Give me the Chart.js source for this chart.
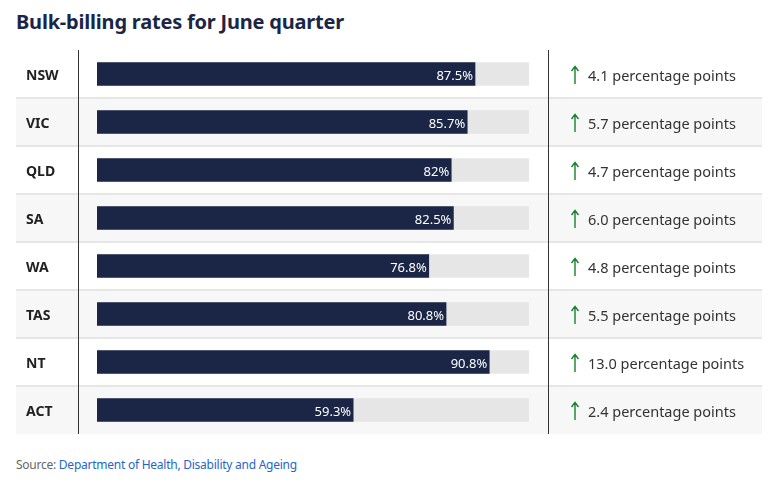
<!DOCTYPE html>
<html>
<head>
<meta charset="utf-8">
<script src="https://cdn.jsdelivr.net/npm/chart.js@4.4.1/dist/chart.umd.min.js"></script>
<style>
  body { margin: 0; background: #fff; font-family: "Noto Sans", sans-serif; }
  #title { position: absolute; left: 16px; top: 8px; font-size: 20px; font-weight: bold; color: #1b2646; letter-spacing: -0.2px; }
  #wrap { position: absolute; left: 16px; top: 50px; width: 746px; height: 384px; }
  #source { position: absolute; left: 16px; top: 456px; font-size: 12px; color: #666; letter-spacing: -0.25px; }
  #source span { color: #1f66c9; }
</style>
</head>
<body>
<div id="title">Bulk-billing rates for June quarter</div>
<div id="wrap"><canvas id="chart"></canvas></div>
<div id="source">Source: <span>Department of Health, Disability and Ageing</span></div>
<script>
const states = ["NSW", "VIC", "QLD", "SA", "WA", "TAS", "NT", "ACT"];
const rates = [87.5, 85.7, 82, 82.5, 76.8, 80.8, 90.8, 59.3];
const changes = [4.1, 5.7, 4.7, 6.0, 4.8, 5.5, 13.0, 2.4];
const track = states.map(() => 100);

// row stripes, dividers, state names and change text
const tablePlugin = {
  id: "table",
  beforeDraw(chart) {
    const ctx = chart.ctx;
    const w = chart.width;
    const yScale = chart.scales.y;
    const rowH = chart.height / states.length;
    ctx.save();
    states.forEach((s, i) => {
      const top = yScale.getPixelForValue(i) - rowH / 2;
      if (i % 2 === 1) {
        ctx.fillStyle = "#f7f7f7";
        ctx.fillRect(0, top, w, rowH);
      }
      if (i > 0) {
        ctx.fillStyle = "#e6e6e6";
        ctx.fillRect(0, top - 1, w, 2);
      }
    });
    ctx.fillStyle = "#333";
    ctx.fillRect(62, 0, 1, chart.height);
    ctx.fillRect(532, 0, 1, chart.height);
    ctx.restore();
  },
  afterDatasetsDraw(chart) {
    const ctx = chart.ctx;
    const yScale = chart.scales.y;
    const meta = chart.getDatasetMeta(1);
    ctx.save();
    ctx.textBaseline = "middle";
    states.forEach((s, i) => {
      const y = yScale.getPixelForValue(i);
      ctx.font = "bold 14px 'Noto Sans'";
      ctx.fillStyle = "#222";
      ctx.textAlign = "left";
      ctx.fillText(s, 10, y + 2);

      const bar = meta.data[i];
      ctx.font = "13px 'Noto Sans'";
      ctx.fillStyle = "#fff";
      ctx.textAlign = "right";
      ctx.fillText(rates[i] + "%", bar.x - 2, y + 2);

      // up arrow
      ctx.strokeStyle = "#17802a";
      ctx.lineWidth = 1.4;
      ctx.beginPath();
      ctx.moveTo(559, y - 7);
      ctx.lineTo(559, y + 10);
      ctx.moveTo(555.5, y - 3);
      ctx.lineTo(559, y - 7.5);
      ctx.lineTo(562.5, y - 3);
      ctx.stroke();

      ctx.font = "14.5px 'Noto Sans'";
      ctx.fillStyle = "#333";
      ctx.textAlign = "left";
      ctx.fillText(changes[i].toFixed(1) + " percentage points", 572, y + 2.5);
    });
    ctx.restore();
  }
};

new Chart(document.getElementById("chart").getContext("2d"), {
  type: "bar",
  data: {
    labels: states,
    datasets: [
      { data: track, backgroundColor: "#e6e6e6", barThickness: 23, grouped: false, order: 2 },
      { data: rates, backgroundColor: "#1b2646", barThickness: 23, grouped: false, order: 1 }
    ]
  },
  options: {
    indexAxis: "y",
    responsive: true,
    maintainAspectRatio: false,
    animation: false,
    layout: { padding: { left: 81, right: 233, top: 0, bottom: 0 } },
    plugins: {
      legend: { display: false },
      tooltip: { enabled: false }
    },
    scales: {
      x: { display: false, min: 0, max: 100 },
      y: { display: false }
    }
  },
  plugins: [tablePlugin]
});
</script>
</body>
</html>
